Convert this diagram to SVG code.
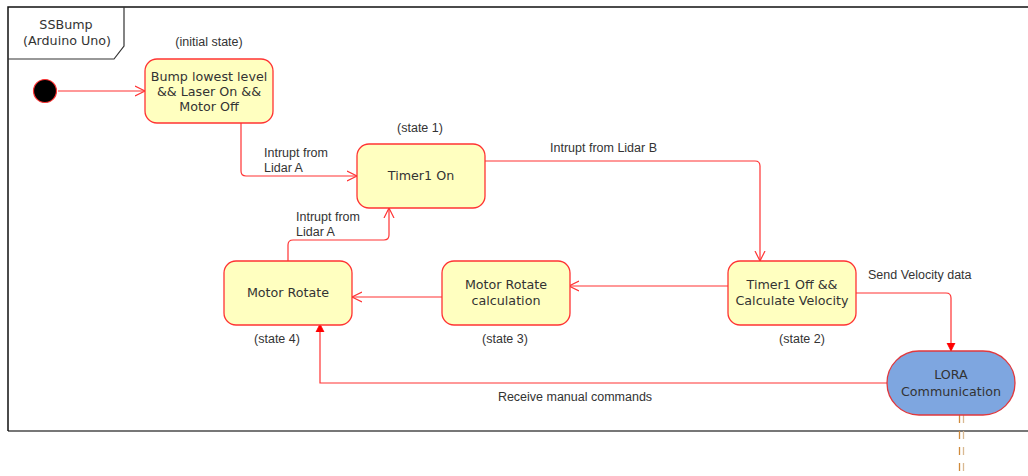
<svg xmlns="http://www.w3.org/2000/svg" width="1028" height="476" viewBox="0 0 1028 476">
<style>
.node{fill:#ffffc0;stroke:#ff3333;stroke-width:1.3}
.nt{font-family:"DejaVu Sans",Verdana,sans-serif;font-size:12.7px;fill:#333;text-anchor:middle}
.lbl{font-family:"Liberation Sans",Arial,sans-serif;font-size:12.5px;fill:#333}
.mid{text-anchor:middle}
.edge{fill:none;stroke:#ff3333;stroke-width:1.2}
</style>
<defs>
<marker id="open" markerWidth="12" markerHeight="12" refX="10" refY="5" orient="auto" markerUnits="userSpaceOnUse" viewBox="0 0 12 10">
<path d="M0,0 L10,5 L0,10" fill="none" stroke="#ff3333" stroke-width="1.2"/>
</marker>
<marker id="block" markerWidth="10" markerHeight="10" refX="8" refY="4" orient="auto" markerUnits="userSpaceOnUse" viewBox="0 0 10 8">
<path d="M0,0 L8,4 L0,8 Z" fill="#ff0000" stroke="#ff0000" stroke-width="0.8"/>
</marker>
</defs>
<rect width="1028" height="476" fill="#fff"/>
<g id="frame">
<path d="M8,431 L1028,431" stroke="#777" stroke-width="2" fill="none"/>
<path d="M8,431 L8,7 L1028,7" stroke="#111" stroke-width="1.5" fill="none"/>
<path d="M8,59 L114,59 L124,46 L124,7" stroke="#333" stroke-width="1.2" fill="none"/>
<text class="nt" x="66" y="29">SSBump</text>
<text class="nt" x="67" y="45">(Arduino Uno)</text>
</g>
<g id="connectors">
<path class="edge" d="M58,91 L145,91" marker-end="url(#open)"/>
<path class="edge" d="M241,123 L241,171 Q241,176 246,176 L357,176" marker-end="url(#open)"/>
<path class="edge" d="M485,161 L755,161 Q760,161 760,166 L760,261" marker-end="url(#open)"/>
<path class="edge" d="M728,286 L569,286" marker-end="url(#open)"/>
<path class="edge" d="M442,297 L352,297" marker-end="url(#open)"/>
<path class="edge" d="M288,261 L288,245 Q288,240 293,240 L384,240 Q389,240 389,235 L389,208" marker-end="url(#open)"/>
<path class="edge" d="M856,293 L946,293 Q951,293 951,298 L951,351" marker-end="url(#block)"/>
<path class="edge" d="M887,383 L320,383 L320,324" marker-end="url(#block)"/>
<path d="M959.5,415 L959.5,476" stroke="#d08a3a" stroke-width="1.3" stroke-dasharray="8,8" fill="none"/>
<path d="M963.5,415 L963.5,476" stroke="#d9b992" stroke-width="1.3" stroke-dasharray="8,8" fill="none"/>
<text class="lbl" x="264" y="157">Intrupt from</text>
<text class="lbl" x="264" y="172">Lidar A</text>
<text class="lbl" x="296" y="221">Intrupt from</text>
<text class="lbl" x="296" y="236">Lidar A</text>
<text class="lbl" x="550" y="152">Intrupt from Lidar B</text>
<text class="lbl" x="868" y="279">Send Velocity data</text>
<text class="lbl mid" x="575" y="401">Receive manual commands</text>
</g>
<g id="start">
<circle cx="45" cy="91" r="11.5" fill="#000" stroke="#ff3333" stroke-width="1.2"/>
</g>
<g id="initial">
<rect class="node" x="145" y="59" width="128" height="64" rx="12"/>
<text class="nt" x="209" y="81">Bump lowest level</text>
<text class="nt" x="209" y="96">&amp;&amp; Laser On &amp;&amp;</text>
<text class="nt" x="209" y="111">Motor Off</text>
<text class="lbl mid" x="209" y="46">(initial state)</text>
</g>
<g id="state1">
<rect class="node" x="357" y="144" width="128" height="64" rx="12"/>
<text class="nt" x="421" y="180">Timer1 On</text>
<text class="lbl mid" x="420" y="132">(state 1)</text>
</g>
<g id="state2">
<rect class="node" x="728" y="261" width="128" height="64" rx="12"/>
<text class="nt" x="792" y="289">Timer1 Off &amp;&amp;</text>
<text class="nt" x="792" y="305">Calculate Velocity</text>
<text class="lbl mid" x="802" y="343">(state 2)</text>
</g>
<g id="state3">
<rect class="node" x="442" y="261" width="128" height="64" rx="12"/>
<text class="nt" x="506" y="289">Motor Rotate</text>
<text class="nt" x="506" y="305">calculation</text>
<text class="lbl mid" x="505" y="343">(state 3)</text>
</g>
<g id="state4">
<rect class="node" x="224" y="261" width="128" height="64" rx="12"/>
<text class="nt" x="288" y="297">Motor Rotate</text>
<text class="lbl mid" x="277" y="343">(state 4)</text>
</g>
<g id="lora">
<rect x="887" y="351" width="128" height="64" rx="32" fill="#7ea6e0" stroke="#e0393e" stroke-width="1.3"/>
<text class="nt" x="951" y="379">LORA</text>
<text class="nt" x="951" y="396">Communication</text>
</g>
</svg>
